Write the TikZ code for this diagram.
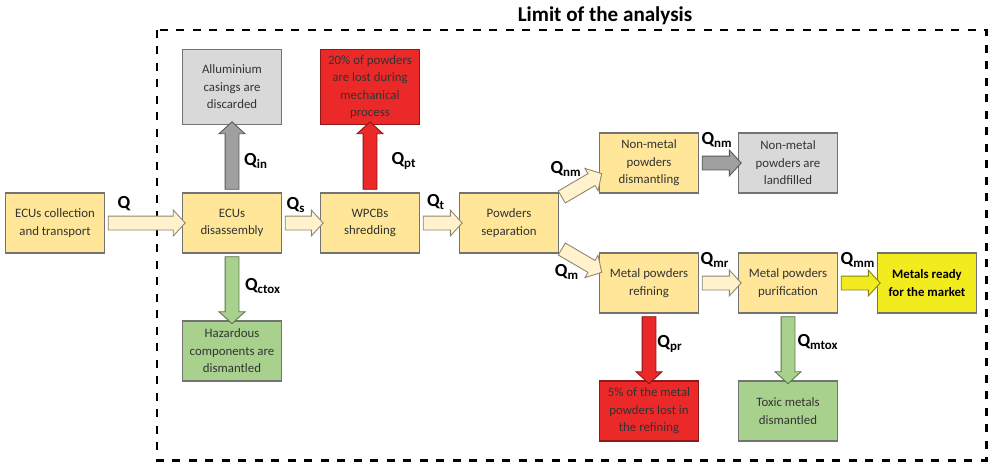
\documentclass[tikz,border=0pt]{standalone}
\usepackage{fontspec}
\setmainfont{Carlito}
\usetikzlibrary{shapes.arrows, positioning, calc}
\definecolor{procyel}{RGB}{255, 230, 153}
\definecolor{flowyel}{RGB}{255, 242, 204}
\definecolor{wastegray}{RGB}{217, 217, 217}
\definecolor{arrowgray}{RGB}{160, 160, 160}
\definecolor{lossred}{RGB}{236, 41, 41}
\definecolor{toxgreen}{RGB}{169, 209, 142}
\definecolor{marketyel}{RGB}{242, 236, 30}
\definecolor{edgegray}{RGB}{115, 115, 115}

% fat block arrow from one anchor to another
\newcommand{\flow}[3]{%
  \path let \p1=(#1), \p2=(#2), \n1={atan2(\y2-\y1,\x2-\x1)}, \n2={veclen(\x2-\x1,\y2-\y1)} in
    node[fatarrow, fill=#3, draw=#3!55!black, minimum height=\n2, rotate=\n1] at ($(#1)!0.5!(#2)$) {};}

\begin{document}
\begin{tikzpicture}[
  x=0.02cm, y=-0.02cm,
  box/.style={draw=edgegray, line width=0.6pt, minimum width=1.98cm, minimum height=1.2cm, align=center, inner sep=2pt, text=black!80, font=\fontsize{7.3}{10}\selectfont},
  tallbox/.style={box, minimum height=1.5cm},
  fatarrow/.style={single arrow, line width=0.5pt, inner xsep=0pt, inner ysep=0.13cm, single arrow head extend=0.12cm, single arrow tip angle=95},
  qlab/.style={font=\fontsize{10.5}{12}\selectfont\bfseries}
]
  \useasboundingbox (0,0) rectangle (989,463);

  % limit of the analysis
  \draw[line width=1.7pt, dash pattern=on 1.6mm off 1.7mm] (157,30) rectangle (986,460);
  \node[font=\fontsize{12}{14}\selectfont\bfseries] (limit) at (605,16) {Limit of the analysis};

  % main line
  \node[box, fill=procyel] (coll) at (55,223) {ECUs collection\\and transport};
  \node[box, fill=procyel] (dis) at (232,223) {ECUs\\disassembly};
  \node[box, fill=procyel] (shr) at (370,223) {WPCBs\\shredding};
  \node[box, fill=procyel] (sep) at (509,223) {Powders\\separation};
  \node[box, fill=procyel] (nmd) at (649,163) {Non-metal\\powders\\dismantling};
  \node[box, fill=wastegray] (land) at (788,163) {Non-metal\\powders are\\landfilled};
  \node[box, fill=procyel] (mref) at (649,283) {Metal powders\\refining};
  \node[box, fill=procyel] (mpur) at (788,283) {Metal powders\\purification};
  \node[box, fill=marketyel, text=black, font=\fontsize{7.3}{10}\selectfont\bfseries] (ready) at (927,283) {Metals ready\\for the market};

  % side streams
  \node[tallbox, fill=wastegray] (alu) at (232,87) {Alluminium\\casings are\\discarded};
  \node[tallbox, fill=lossred, draw=lossred!60!black] (lost20) at (370,87) {20\% of powders\\are lost during\\mechanical\\process};
  \node[box, fill=toxgreen] (haz) at (232,351) {Hazardous\\components are\\dismantled};
  \node[box, fill=lossred, draw=lossred!60!black] (lost5) at (649,411) {5\% of the metal\\powders lost in\\the refining};
  \node[box, fill=toxgreen] (toxic) at (788,411) {Toxic metals\\dismantled};

  % flows
  \flow{coll.east}{dis.west}{flowyel}
  \flow{dis.east}{shr.west}{flowyel}
  \flow{shr.east}{sep.west}{flowyel}
  \flow{$(sep.north east)!0.1!(sep.south east)$}{$(nmd.north west)!0.7!(nmd.south west)$}{flowyel}
  \flow{$(sep.north east)!0.9!(sep.south east)$}{$(mref.north west)!0.3!(mref.south west)$}{flowyel}
  \flow{nmd.east}{land.west}{arrowgray}
  \flow{mref.east}{mpur.west}{flowyel}
  \flow{mpur.east}{ready.west}{marketyel}
  \flow{dis.north}{alu.south}{arrowgray}
  \flow{shr.north}{lost20.south}{lossred}
  \flow{dis.south}{haz.north}{toxgreen}
  \flow{mref.south}{lost5.north}{lossred}
  \flow{mpur.south}{toxic.north}{toxgreen}

  % flow labels
  \node[qlab] (q) at (124,204) {Q};
  \node[qlab] (qs) at (296,205) {Q\textsubscript{s}};
  \node[qlab] (qt) at (436,202) {Q\textsubscript{t}};
  \node[qlab] (qnm) at (566,169) {Q\textsubscript{nm}};
  \node[qlab] (qm) at (567,272) {Q\textsubscript{m}};
  \node[qlab] (qnm2) at (717,140) {Q\textsubscript{nm}};
  \node[qlab] (qmr) at (715,260) {Q\textsubscript{mr}};
  \node[qlab] (qmm) at (858,260) {Q\textsubscript{mm}};
  \node[qlab] (qin) at (256,161) {Q\textsubscript{in}};
  \node[qlab] (qpt) at (404,161) {Q\textsubscript{pt}};
  \node[qlab] (qctox) at (263,286) {Q\textsubscript{ctox}};
  \node[qlab] (qpr) at (670,344) {Q\textsubscript{pr}};
  \node[qlab] (qmtox) at (818,342) {Q\textsubscript{mtox}};
\end{tikzpicture}
\end{document}
